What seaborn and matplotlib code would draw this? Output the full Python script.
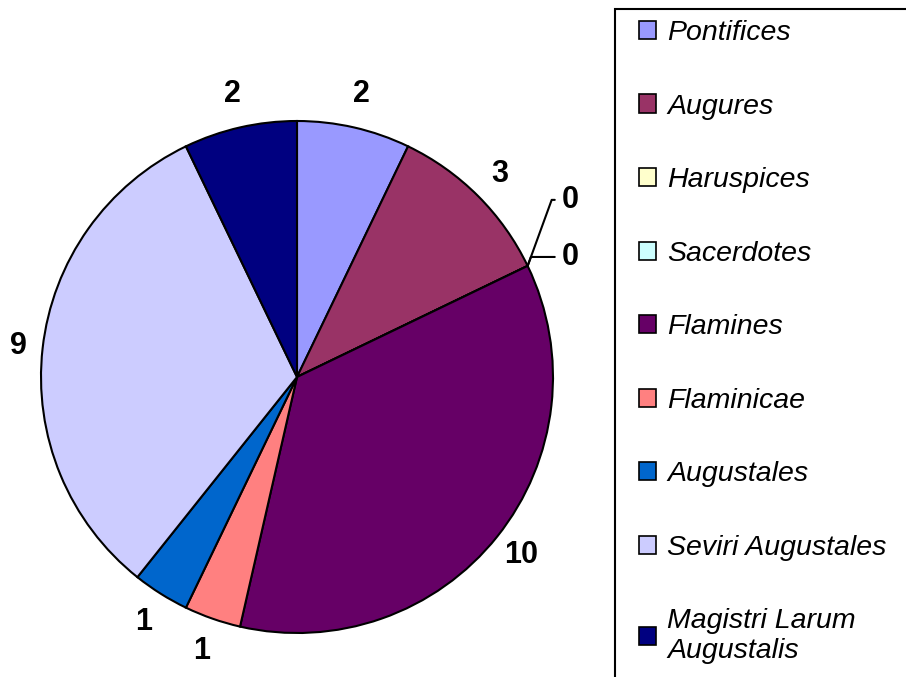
import numpy as np
import matplotlib
matplotlib.use('Agg')
import matplotlib.pyplot as plt
import matplotlib.patches as mpatches
import seaborn as sns

sns.set_style('white')
plt.rcParams['font.family'] = ['Liberation Sans', 'DejaVu Sans']
plt.rcParams['text.color'] = 'black'

# Data
categories = ['Pontifices', 'Augures', 'Haruspices', 'Sacerdotes', 'Flamines',
              'Flaminicae', 'Augustales', 'Seviri Augustales', 'Magistri Larum\nAugustalis']
counts = [2, 3, 0, 0, 10, 1, 1, 9, 2]
colors = ['#9999FF', '#993366', '#FFFFCC', '#CCFFFF', '#660066',
          '#FF8080', '#0066CC', '#CCCCFF', '#000080']

fig = plt.figure(figsize=(9.06, 6.77), dpi=100)
# axes over the whole figure, 1 data unit = 256 px (pie radius)
ax = fig.add_axes([0, 0, 1, 1])

wedges, _ = ax.pie(counts, colors=colors, startangle=90, counterclock=False,
                   wedgeprops=dict(edgecolor='black', linewidth=1.5))

ax.set_xlim(-297 / 256, (906 - 297) / 256)
ax.set_ylim(-(677 - 377) / 256, 377 / 256)
ax.set_aspect('equal', adjustable='datalim')
ax.axis('off')

# value labels
zero_offsets = [(0.135, 0.258), (0.135, 0.035)]
z = 0
for w, v in zip(wedges, counts):
    mid = np.deg2rad((w.theta1 + w.theta2) / 2)
    x, y = np.cos(mid), np.sin(mid)
    if v == 0:
        dx, dy = zero_offsets[z]
        z += 1
        ax.annotate(str(v), xy=(x, y), xytext=(x + dx, y + dy),
                    fontsize=22, fontweight='bold', ha='left', va='center', color='black',
                    arrowprops=dict(arrowstyle='-', color='black', lw=1.5,
                                    connectionstyle='angle,angleA=180,angleB=70,rad=0',
                                    shrinkA=3, shrinkB=0))
    else:
        d = 1.09 + 0.045 * abs(y)
        ax.text(d * x, d * y, str(v), fontsize=22, fontweight='bold',
                ha='center', va='center', color='black')

# legend frame
frame = mpatches.Rectangle((615 / 906, -0.05), 0.5, 1.05 - 9 / 677,
                           transform=fig.transFigure, fill=False,
                           edgecolor='black', linewidth=1.5, clip_on=False)
fig.add_artist(frame)

handles = [mpatches.Patch(facecolor=c, edgecolor='black', linewidth=1.2) for c in colors]
leg = fig.legend(handles, categories, loc='upper left', bbox_to_anchor=(639 / 906, 1 - 20 / 677),
                 frameon=False, prop=dict(size=20.5, style='italic'),
                 handlelength=0.6, handleheight=0.6, handletextpad=0.4,
                 labelspacing=1.67, borderpad=0, borderaxespad=0)
for t in leg.get_texts():
    t.set_linespacing(1.2)
    t.set_color('black')

fig.savefig('out.png', dpi=100)
